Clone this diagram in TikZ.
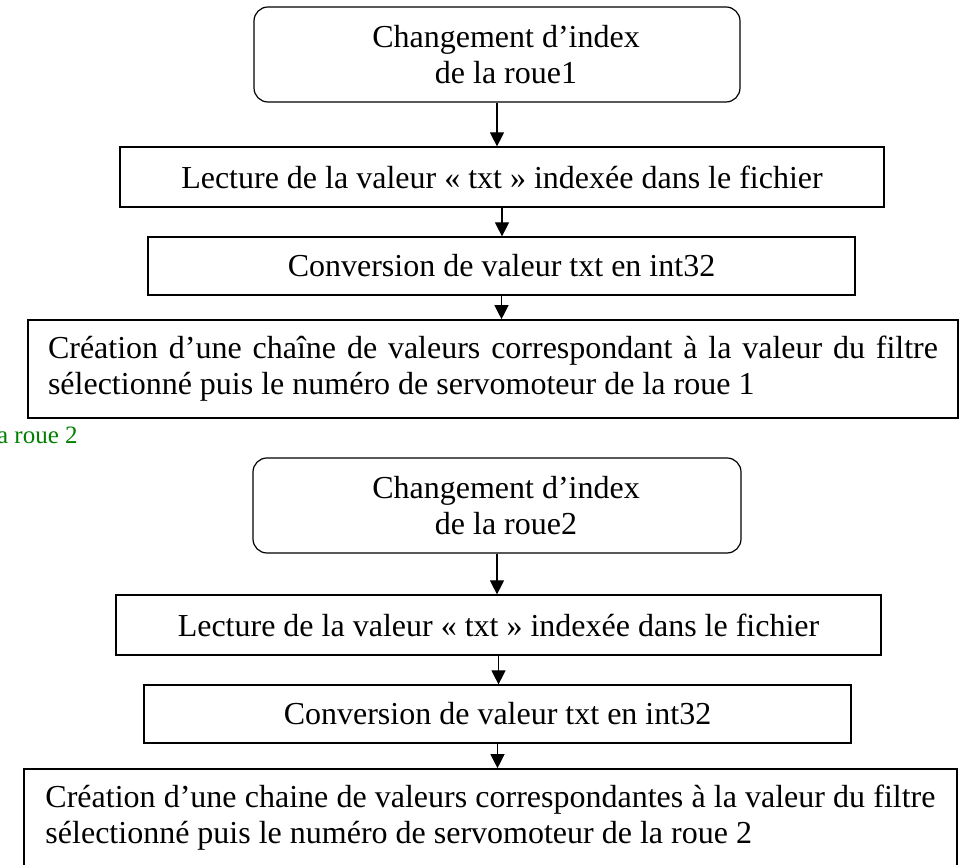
\documentclass[tikz,border=0pt]{standalone}
\usepackage{fontspec}
\setmainfont{Liberation Serif}
\usetikzlibrary{arrows.meta}
\begin{document}
\begin{tikzpicture}[x=0.5pt,y=-0.5pt,
    every node/.style={font=\fontsize{16}{18}\selectfont},
    boite/.style={draw, line width=0.6pt, inner sep=0pt, align=center},
    arrondi/.style={boite, rounded corners=7pt},
    grande/.style={draw, line width=0.8pt, inner sep=0pt, text width=445pt, align=justify, minimum height=49pt},
    fleche/.style={line width=0.6pt, -{Triangle[width=7pt,length=7pt]}}]
\useasboundingbox (0,0) rectangle (960,865);
% roue 1
\node[arrondi, minimum width=243pt, minimum height=47.5pt] (b1) at (497,54.5) {\hspace*{9pt}Changement d’index\\ \hspace*{9pt}de la roue1};
\node[boite, minimum width=382pt, minimum height=30pt] (b2) at (502,177) {Lecture de la valeur « txt » indexée dans le fichier};
\node[boite, minimum width=353.5pt, minimum height=29pt] (b3) at (501.5,266) {Conversion de valeur txt en int32};
\node[grande, minimum width=465pt] (b4) at (493,369) {Création d’une chaîne de valeurs correspondant à la valeur du filtre\linebreak sélectionné puis le numéro de servomoteur de la roue 1};
\node[anchor=base east, text=green!50!black, font=\fontsize{12.5}{14}\selectfont, inner sep=0pt] (lab) at (78,444) {la roue 2};
% roue 2
\node[arrondi, minimum width=244pt, minimum height=47.5pt] (b5) at (497,505.5) {\hspace*{9pt}Changement d’index\\ \hspace*{9pt}de la roue2};
\node[boite, minimum width=382.5pt, minimum height=30pt] (b6) at (498.5,625) {Lecture de la valeur « txt » indexée dans le fichier};
\node[boite, minimum width=353.5pt, minimum height=29pt] (b7) at (497.5,714) {Conversion de valeur txt en int32};
\node[grande, minimum width=466.5pt] (b8) at (490.5,818) {Création d’une chaine de valeurs correspondantes à la valeur du filtre\linebreak sélectionné puis le numéro de servomoteur de la roue 2};
\foreach \a/\b in {b1/b2,b2/b3,b3/b4,b5/b6,b6/b7,b7/b8}
    \draw[fleche] (\a.south) -- (\a.south |- \b.north);
\end{tikzpicture}
\end{document}
